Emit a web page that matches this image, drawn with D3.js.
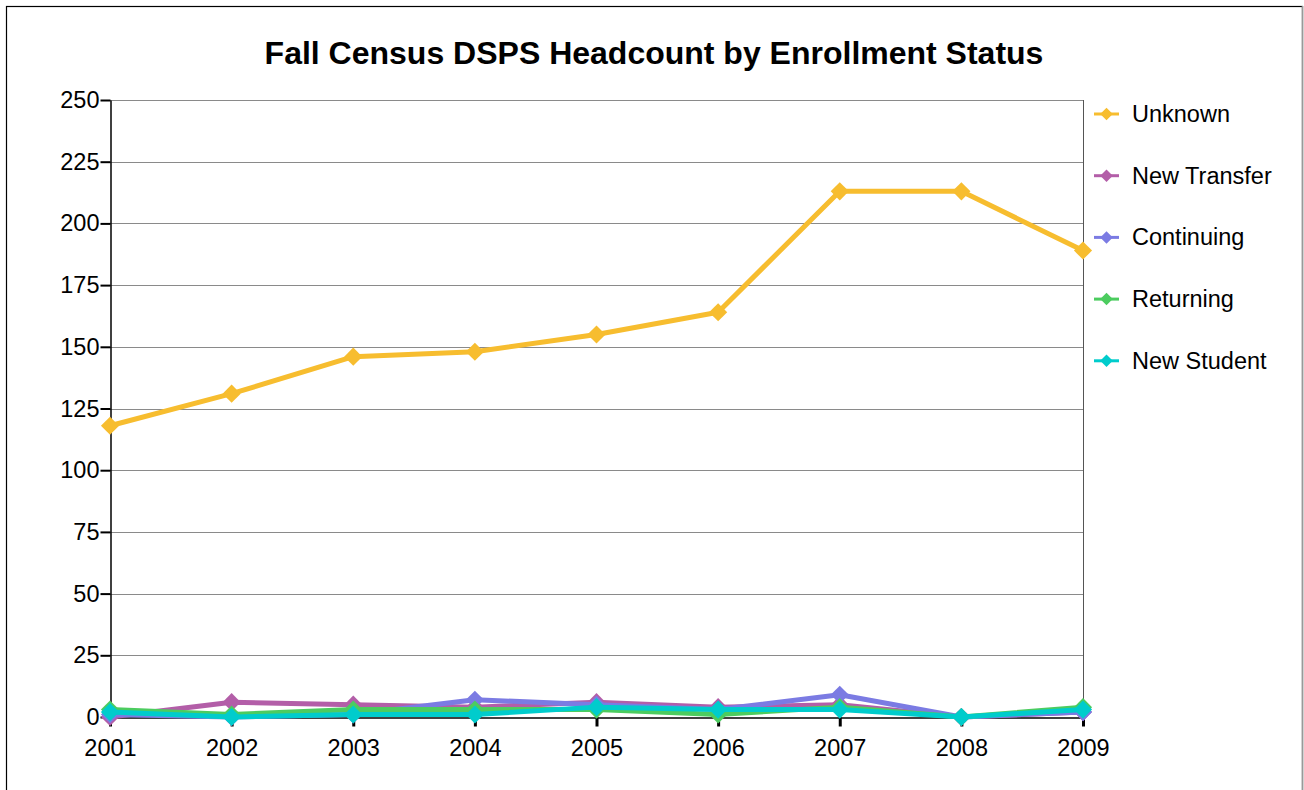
<!DOCTYPE html>
<html>
<head>
<meta charset="utf-8">
<script src="https://cdn.jsdelivr.net/npm/d3@7"></script>
<style>
  body { margin: 0; background: #fff; }
  text { font-family: "Liberation Sans", Arial, sans-serif; }
</style>
</head>
<body>
<div id="chart"></div>
<script>
// data
const years = [2001, 2002, 2003, 2004, 2005, 2006, 2007, 2008, 2009];
const seriesNames = ["Unknown", "New Transfer", "Continuing", "Returning", "New Student"];
const seriesColors = ["#f7bd2f", "#b35ea8", "#7b7be3", "#4ccc5f", "#00cccc"];
const unknown     = [118, 131, 146, 148, 155, 164, 213, 213, 189];
const newTransfer = [0, 6, 5, 4, 6, 4, 5, 0, 2];
const continuing  = [1, 0, 1, 7, 5, 3, 9, 0, 2];
const returning   = [3, 1, 3, 3, 3, 1, 4, 0, 4];
const newStudent  = [2, 0, 1, 1, 4, 3, 3, 0, 3];
const yTicks = [0, 25, 50, 75, 100, 125, 150, 175, 200, 225, 250];

const allSeries = [unknown, newTransfer, continuing, returning, newStudent];

const W = 1304, H = 790;
const margin = {top: 100, right: 221, bottom: 73, left: 110};

const svg = d3.select("#chart").append("svg")
    .attr("width", W)
    .attr("height", H);

// outer frame
svg.append("rect")
    .attr("x", 6.5).attr("y", 6.5)
    .attr("width", 1296).attr("height", 800)
    .attr("fill", "none")
    .attr("stroke", "#000")
    .attr("stroke-width", 1.2);
svg.append("line")
    .attr("x1", 1302.5).attr("x2", 1302.5)
    .attr("y1", 6).attr("y2", H)
    .attr("stroke", "#999").attr("stroke-width", 1.5);

svg.append("text")
    .attr("x", 654).attr("y", 64)
    .attr("text-anchor", "middle")
    .attr("font-size", 32)
    .attr("font-weight", "bold")
    .text("Fall Census DSPS Headcount by Enrollment Status");

const x = d3.scaleLinear()
    .domain([years[0], years[years.length - 1]])
    .range([margin.left, W - margin.right]);

const y = d3.scaleLinear()
    .domain([0, 250])
    .range([H - margin.bottom, margin.top]);

// gridlines
svg.append("g")
    .selectAll("line")
    .data(yTicks.filter(d => d > 0))
    .enter().append("line")
    .attr("x1", margin.left).attr("x2", W - margin.right)
    .attr("y1", d => Math.round(y(d)) + 0.5)
    .attr("y2", d => Math.round(y(d)) + 0.5)
    .attr("stroke", "#8a8a8a")
    .attr("stroke-width", 1);

// right border of plot
svg.append("line")
    .attr("x1", W - margin.right + 0.5).attr("x2", W - margin.right + 0.5)
    .attr("y1", margin.top).attr("y2", H - margin.bottom)
    .attr("stroke", "#555");

// y axis
const yAxis = svg.append("g")
    .attr("transform", `translate(${margin.left + 0.5},0)`)
    .call(d3.axisLeft(y).tickValues(yTicks).tickSize(10).tickSizeOuter(0).tickPadding(1));
yAxis.select(".domain").attr("stroke", "#000").attr("stroke-width", 1.5);
yAxis.selectAll(".tick line").attr("stroke-width", 2);
yAxis.selectAll("text")
    .attr("font-size", 23.5)
    .attr("fill", "#000")
    .style("font-family", "'Liberation Sans', Arial, sans-serif");

// x axis
const xAxis = svg.append("g")
    .attr("transform", `translate(0,${H - margin.bottom + 0.5})`)
    .call(d3.axisBottom(x).tickValues(years).tickFormat(d3.format("d"))
        .tickSize(9).tickSizeOuter(0).tickPadding(13));
xAxis.select(".domain").attr("stroke", "#000").attr("stroke-width", 1.5);
xAxis.selectAll(".tick line").attr("stroke-width", 3);
xAxis.selectAll("text")
    .attr("font-size", 23.5)
    .attr("fill", "#000")
    .style("font-family", "'Liberation Sans', Arial, sans-serif");

const line = d3.line()
    .x((d, i) => x(years[i]))
    .y(d => y(d));

const diamond = d3.symbol().type(d3.symbolDiamond2).size(210);

seriesNames.forEach((name, k) => {
    const g = svg.append("g").attr("class", "series");
    g.append("path")
        .datum(allSeries[k])
        .attr("d", line)
        .attr("fill", "none")
        .attr("stroke", seriesColors[k])
        .attr("stroke-width", 5)
        .attr("stroke-linejoin", "round");
    g.selectAll("path.mark")
        .data(allSeries[k])
        .enter().append("path")
        .attr("class", "mark")
        .attr("d", diamond)
        .attr("transform", (d, i) => `translate(${x(years[i])},${y(d)})`)
        .attr("fill", seriesColors[k]);
});

// legend
const legend = svg.append("g")
    .selectAll("g")
    .data(seriesNames)
    .enter().append("g")
    .attr("transform", (d, i) => `translate(1094,${114 + i * 61.7})`);
legend.append("line")
    .attr("x1", 0).attr("x2", 25)
    .attr("stroke", (d, i) => seriesColors[i])
    .attr("stroke-width", 3);
legend.append("path")
    .attr("d", d3.symbol().type(d3.symbolDiamond2).size(100))
    .attr("transform", "translate(12.5,0)")
    .attr("fill", (d, i) => seriesColors[i]);
legend.append("text")
    .attr("x", 38).attr("y", 8)
    .attr("font-size", 23.5)
    .text(d => d);
</script>
</body>
</html>
